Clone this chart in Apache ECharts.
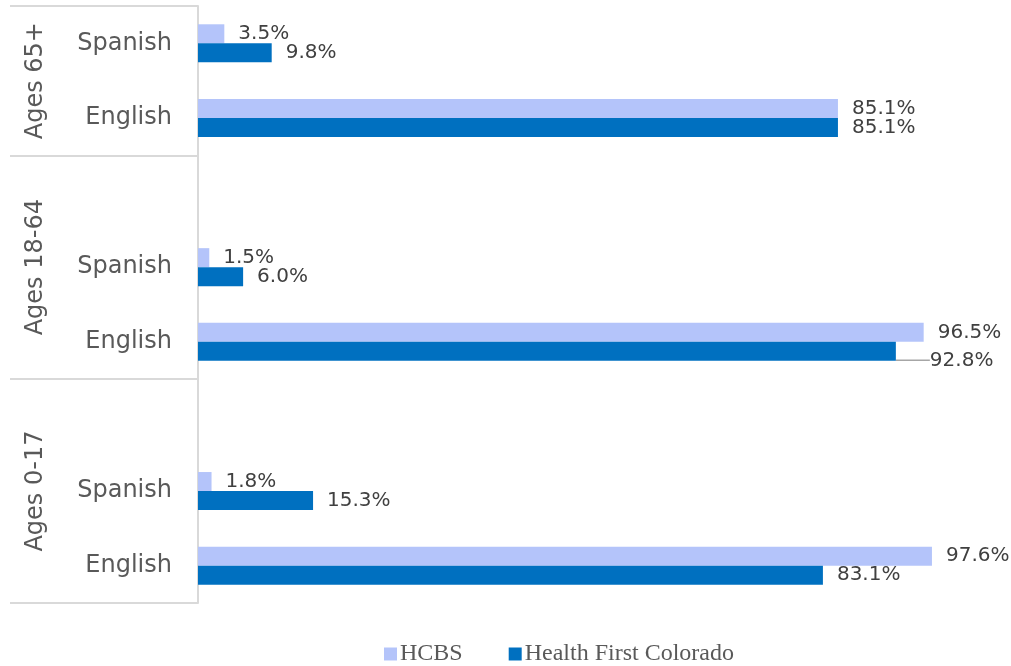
<!DOCTYPE html>
<html>
<head>
<meta charset="utf-8">
<script src="https://cdn.jsdelivr.net/npm/echarts@6/dist/echarts.min.js"></script>
<style>
  html, body { margin: 0; padding: 0; background: #fff; }
  #main { width: 1011px; height: 666px; }
</style>
</head>
<body>
<div id="main"></div>
<script>
// groups listed bottom to top, languages bottom to top inside a group
var groups = ['Ages 0-17', 'Ages 18-64', 'Ages 65+'];
var languages = ['English', 'Spanish'];
var hcbs = [[97.6, 1.8], [96.5, 1.5], [85.1, 3.5]];
var healthFirst = [[83.1, 15.3], [92.8, 6.0], [85.1, 9.8]];
var seriesNames = ['HCBS', 'Health First Colorado'];

// build category rows, with a blank row between groups
var categories = [];
var hcbsData = [];
var hfData = [];
var groupBounds = [0];
var groupCenters = [];
for (var g = 0; g < groups.length; g++) {
    var start = categories.length;
    for (var l = 0; l < languages.length; l++) {
        categories.push(languages[l]);
        hcbsData.push(hcbs[g][l]);
        hfData.push(healthFirst[g][l]);
    }
    if (g < groups.length - 1) {
        categories.push('');
        hcbsData.push(null);
        hfData.push(null);
    }
    groupBounds.push(categories.length);
    groupCenters.push((start + categories.length) / 2);
}

// the 92.8% label was pulled aside with a leader line
var movedIndex = 3;
hfData[movedIndex] = { value: hfData[movedIndex], labelLine: { show: true } };

var myChart = echarts.init(document.getElementById('main'));

var labelFont = 'DejaVu Sans';
function pct(p) { return p.value == null ? '' : p.value.toFixed(1) + '%'; }

myChart.setOption({
    animation: false,
    grid: { left: 198, right: 61, top: 6, bottom: 63, containLabel: false },
    legend: {
        top: 642,
        left: 384,
        padding: 0,
        itemWidth: 13,
        itemHeight: 13,
        itemGap: 46,
        icon: 'rect',
        textStyle: { fontFamily: 'Liberation Serif', fontSize: 24, color: '#595959', padding: [0, 0, 0, -2] },
        data: seriesNames
    },
    xAxis: { type: 'value', min: 0, max: 100, show: false },
    yAxis: [
        {
            type: 'category',
            data: categories,
            axisLine: { show: true, lineStyle: { color: '#d9d9d9', width: 2 } },
            axisTick: { show: false },
            axisLabel: { fontFamily: labelFont, fontSize: 24, color: '#595959', margin: 26 }
        },
        {
            // group separators
            type: 'value',
            min: 0,
            max: categories.length,
            position: 'left',
            offset: 188,
            axisLine: { show: false },
            splitLine: { show: false },
            axisTick: {
                show: true, inside: true, length: 188,
                customValues: groupBounds,
                lineStyle: { color: '#d9d9d9', width: 2 }
            },
            axisLabel: { show: false }
        },
        {
            // group names
            type: 'value',
            min: 0,
            max: categories.length,
            position: 'left',
            offset: 150,
            axisLine: { show: false },
            splitLine: { show: false },
            axisTick: { show: false },
            axisLabel: {
                show: true,
                rotate: 90,
                margin: 0,
                customValues: groupCenters,
                fontFamily: labelFont,
                fontSize: 24,
                color: '#595959',
                formatter: function (v) {
                    var i = groupCenters.indexOf(v);
                    return i >= 0 ? groups[i] : '';
                }
            }
        }
    ],
    series: [
        {
            name: seriesNames[0],
            type: 'bar',
            data: hcbsData,
            barGap: 0,
            barCategoryGap: '49%',
            itemStyle: { color: '#b4c4fa' },
            label: {
                show: true, position: 'right', distance: 14,
                fontFamily: labelFont, fontSize: 20, color: '#404040',
                formatter: pct
            }
        },
        {
            name: seriesNames[1],
            type: 'bar',
            data: hfData,
            barGap: 0,
            barCategoryGap: '49%',
            itemStyle: { color: '#0070c0' },
            label: {
                show: true, position: 'right', distance: 14,
                fontFamily: labelFont, fontSize: 20, color: '#404040',
                formatter: pct
            },
            labelLine: { show: false, lineStyle: { color: '#a6a6a6', width: 1.5 } },
            labelLayout: function (p) {
                if (p.dataIndex === movedIndex) return { dx: 20, dy: 9 };
            }
        }
    ]
});
</script>
</body>
</html>
